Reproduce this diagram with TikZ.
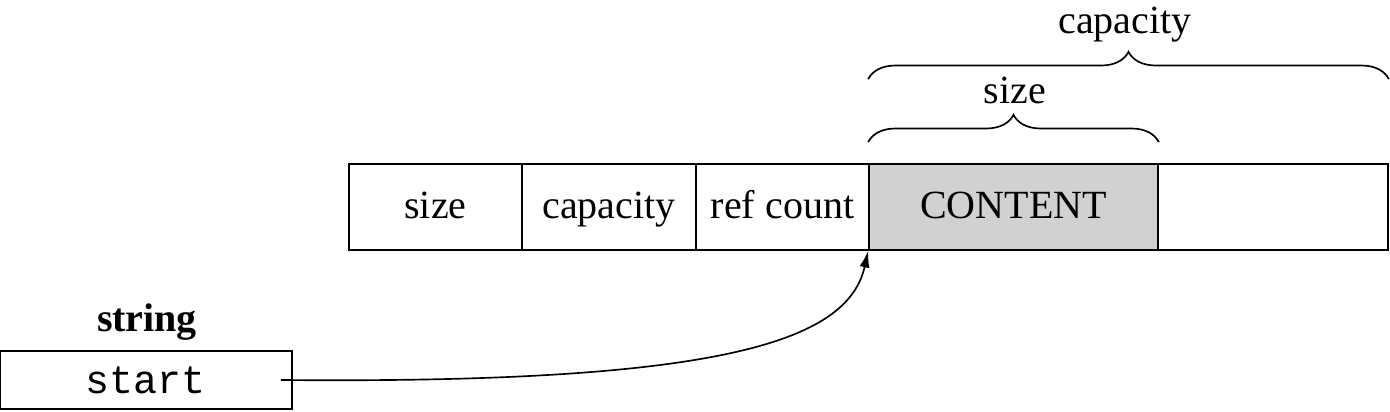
\documentclass[tikz,border=0pt]{standalone}
\usepackage{fontspec}
\setmainfont{Liberation Serif}
\setmonofont{Liberation Mono}
\usetikzlibrary{decorations.pathreplacing,arrows.meta}
\begin{document}
\begin{tikzpicture}[x=0.3pt,y=0.3pt,font=\fontsize{12}{14}\selectfont,line width=0.5pt,
    cell/.style={draw,inner sep=0pt,minimum height=25.8pt,text height=0.9em,text depth=0.2em},
    klammer/.style={decorate,decoration={brace,amplitude=8.2pt,raise=#1}}]
\useasboundingbox (0,0) rectangle (1390,412);
% Speicherblock
    \node[cell,minimum width=51.9pt] (sz) at (435.5,205) {size};
    \node[cell,minimum width=52.2pt] (cap) at (609,205) {capacity};
    \node[cell,minimum width=51.9pt] (ref) at (782.5,205) {ref count};
    \node[cell,minimum width=86.7pt,fill=black!18] (content) at (1013.5,205) {CONTENT};
    \node[cell,minimum width=69pt] (rest) at (1273,205) {};
% Klammern
    \draw[klammer=6.3pt] (content.north west) -- (content.north east);
    \draw[klammer=25.2pt] (content.north west) -- (rest.north east);
    \node at (1015,322) {size};
    \node at (1125,387) {capacity};
% string-Objekt
    \node[draw,inner sep=0pt,minimum width=87.6pt,minimum height=17.4pt] (str) at (146,32) {\ttfamily start};
    \node[font=\fontsize{12}{14}\selectfont\bfseries] (strlabel) at (147,90) {string};
    \coordinate (ptr) at ([xshift=-3.6pt]str.east);
    \draw[-{Latex[length=5pt,width=3pt]}] (ptr) .. controls (720,28) and (848,70) .. (content.south west);
\end{tikzpicture}
\end{document}
